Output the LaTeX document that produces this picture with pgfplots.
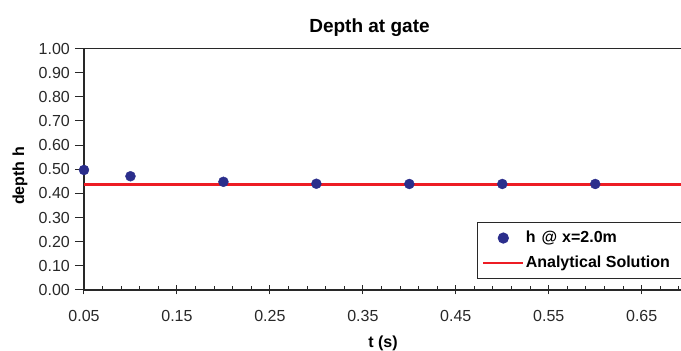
\documentclass[border=0pt]{standalone}
\usepackage{fontspec}
\setmainfont{Liberation Sans}
\usepackage{pgfplots}
\pgfplotsset{compat=1.18}
\definecolor{navy}{RGB}{43,46,140}
\definecolor{exred}{RGB}{237,28,36}
\definecolor{axgray}{RGB}{40,40,40}
\pgfplotsset{
  marklegend/.style={legend image code/.code={\path[draw=none] (0pt,0pt) -- (40pt,0pt); \path[##1, draw=none] plot coordinates {(20pt,0pt)};}},
  linelegend/.style={legend image code/.code={\draw[##1, line width=2pt] (0pt,0pt) -- (40pt,0pt);}},
}
\begin{document}
\begin{tikzpicture}[x=1pt,y=1pt]
\begin{axis}[
  at={(0pt,0pt)}, anchor=south west,
  scale only axis, width=604.2pt, height=241.5pt,
  xmin=0.05, xmax=0.70, ymin=0, ymax=1,
  xtick pos=bottom, ytick pos=left,
  xtick={0.05,0.15,0.25,0.35,0.45,0.55,0.65},
  minor xtick={0.07,0.09,0.11,0.13,0.17,0.19,0.21,0.23,0.27,0.29,0.31,0.33,0.37,0.39,0.41,0.43,0.47,0.49,0.51,0.53,0.57,0.59,0.61,0.63,0.67,0.69},
  ytick={0,0.1,0.2,0.3,0.4,0.5,0.6,0.7,0.8,0.9,1.0},
  xtick align=center, ytick align=outside,
  major tick length=9pt,
  minor tick length=4pt,
  minor x tick style={yshift=2pt},
  axis line style={axgray, line width=1.3pt},
  every tick/.style={axgray, line width=1pt},
  /pgf/number format/assume math mode=true,
  /pgf/number format/.cd, fixed, fixed zerofill, precision=2, /pgfplots/.cd,
  xticklabel style={font=\fontsize{16}{18}\selectfont, anchor=north, inner sep=0pt, text=axgray, yshift=-16pt},
  yticklabel style={font=\fontsize{16}{18}\selectfont, anchor=east, inner sep=0pt, text=axgray, xshift=-5pt},
  scaled ticks=false,
  clip=false,
  legend style={at={(axis description cs:0.650,0.283)}, anchor=north west,
    draw=axgray, line width=1.2pt, fill=white,
    inner xsep=5pt, inner ysep=7.8pt,
    font=\bfseries\fontsize{16}{18}\selectfont,
    nodes={inner sep=0pt, text height=12pt, text depth=4pt},
    row sep=9pt, column sep=1.5pt},
  legend cell align=left,
]
\addplot[only marks, mark=*, mark size=5pt, mark options={fill=navy, draw=navy}, marklegend]
  coordinates {(0.05,0.497) (0.1,0.471) (0.2,0.448) (0.3,0.440) (0.4,0.439) (0.5,0.439) (0.6,0.439)};
\addlegendentry{\makebox[160pt][l]{h\hspace{6pt}@\hspace{5pt}x=2.0m}}
\addplot[exred, line width=2.6pt, no marks, linelegend]
  coordinates {(0.05,0.436) (0.70,0.436)};
\addlegendentry{\makebox[160pt][l]{Analytical Solution}}
\end{axis}
\node[font=\bfseries\fontsize{19}{22}\selectfont] at (285.5pt,262pt) {Depth at gate};
\node[font=\bfseries\fontsize{16}{18}\selectfont, rotate=90] at (-64pt,114pt) {depth h};
\node[font=\bfseries\fontsize{16}{18}\selectfont] at (299pt,-53.5pt) {t (s)};
\pgfresetboundingbox
\path[use as bounding box] (-84pt,-61pt) rectangle (597pt,290pt);
\end{tikzpicture}
\end{document}
